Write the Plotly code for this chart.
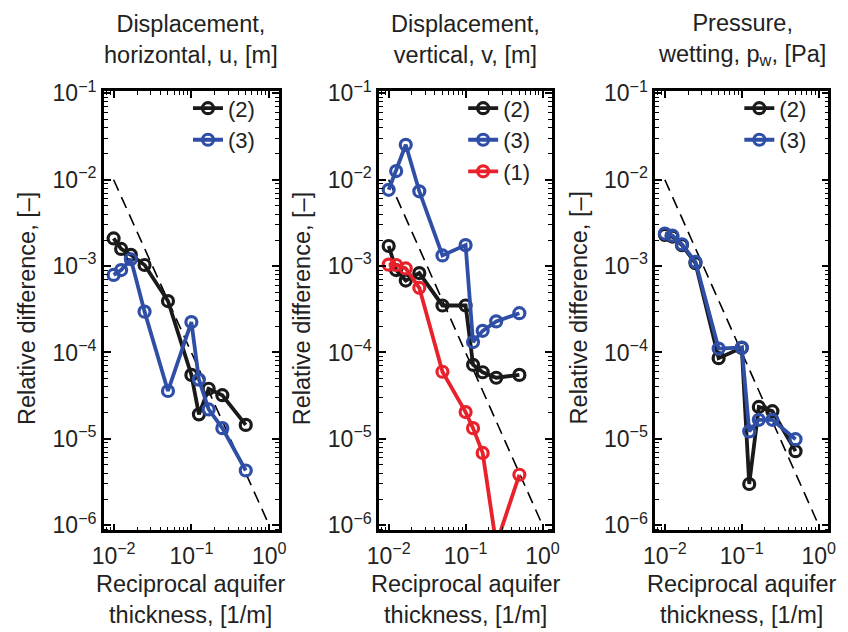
import plotly.graph_objects as go

# ---------------- data ----------------
x_recip = [1/100, 1/80, 1/60, 1/40, 1/20, 1/10, 1/8, 1/6, 1/4, 1/2]

u_2 = [2.09e-3, 1.58e-3, 1.35e-3, 1.03e-3, 3.94e-4, 5.5e-5, 1.92e-5, 3.8e-5, 3.2e-5, 1.45e-5]
u_3 = [7.9e-4, 9.0e-4, 1.2e-3, 2.97e-4, 3.58e-5, 2.25e-4, 4.85e-5, 2.19e-5, 1.33e-5, 4.3e-6]

v_2 = [1.71e-3, 9.0e-4, 6.8e-4, 8.3e-4, 3.5e-4, 3.5e-4, 7.2e-5, 5.9e-5, 5.1e-5, 5.5e-5]
v_3 = [7.65e-3, 1.26e-2, 2.54e-2, 7.35e-3, 1.33e-3, 1.75e-3, 1.32e-4, 1.78e-4, 2.29e-4, 2.85e-4]
v_1 = [1.04e-3, 1.03e-3, 9.4e-4, 5.6e-4, 5.98e-5, 2.04e-5, 1.33e-5, 6.87e-6, 6.0e-7, 3.84e-6]

p_2 = [2.3e-3, 2.2e-3, 1.75e-3, 1.08e-3, 8.6e-5, 1.13e-4, 3.0e-6, 2.34e-5, 2.09e-5, 7.2e-6]
p_3 = [2.38e-3, 2.26e-3, 1.79e-3, 1.12e-3, 1.11e-4, 1.14e-4, 1.22e-5, 1.66e-5, 1.66e-5, 9.9e-6]

ref_x = [1e-2, 1e0]
ref_y = [1e-2, 1e-6]

titles = ["Displacement,<br>horizontal, u, [m]",
          "Displacement,<br>vertical, v, [m]",
          "Pressure,<br>wetting, p<sub>w</sub>, [Pa]"]
xlabel = "Reciprocal aquifer<br>thickness, [1/m]"
ylabel = "Relative difference, [–]"

x_tickvals = [1e-2, 1e-1, 1e0]
x_ticktext = ["10<sup>−2</sup>", "10<sup>−1</sup>", "10<sup>0</sup>"]
y_tickvals = [1e-6, 1e-5, 1e-4, 1e-3, 1e-2, 1e-1]
y_ticktext = ["10<sup>−6</sup>", "10<sup>−5</sup>", "10<sup>−4</sup>",
              "10<sup>−3</sup>", "10<sup>−2</sup>", "10<sup>−1</sup>"]

# ---------------- style ----------------
FONT = "Liberation Sans, Arial, Helvetica, sans-serif"
FS = 23
FT = 23.5
TXT = "#222222"
C2 = "#1a1a1a"
C3 = "#2f4ea6"
C1 = "#e8212b"
LW = 3.8
W, H = 848, 632

xdoms = [[94/W, 273/W], [375.5/W, 552.5/W], [658/W, 835/W]]
ydom = [1 - 535/H, 1 - 80/H]

minor_x = [m * 10**e for e in range(-3, 1) for m in range(2, 10)]
minor_y = [m * 10**e for e in range(-7, 0) for m in range(2, 10)]

fig = go.Figure()

panels = [
    [("(2)", u_2, C2), ("(3)", u_3, C3)],
    [("(2)", v_2, C2), ("(3)", v_3, C3), ("(1)", v_1, C1)],
    [("(2)", p_2, C2), ("(3)", p_3, C3)],
]

for i, series in enumerate(panels):
    sfx = "" if i == 0 else str(i + 1)
    leg = "legend" if i == 0 else f"legend{i+1}"
    fig.add_trace(go.Scatter(
        x=ref_x, y=ref_y, mode="lines",
        line=dict(color="black", width=1.6, dash="12px,7px"),
        showlegend=False, xaxis="x" + sfx, yaxis="y" + sfx, hoverinfo="skip"))
    for name, yv, col in series:
        fig.add_trace(go.Scatter(
            x=x_recip, y=yv, mode="lines+markers", name=name,
            line=dict(color=col, width=LW),
            marker=dict(symbol="circle-open", size=11, color=col,
                        line=dict(color=col, width=3.2)),
            xaxis="x" + sfx, yaxis="y" + sfx, legend=leg))

axis_common = dict(
    type="log", showgrid=False, zeroline=False,
    showline=True, linecolor="black", linewidth=2.5, mirror="ticks",
    ticks="inside", ticklen=7, tickwidth=1.5, tickcolor="black",
    tickfont=dict(family=FONT, size=FS, color=TXT),
)

layout = dict(
    width=W, height=H, margin=dict(l=0, r=0, t=0, b=0),
    paper_bgcolor="white", plot_bgcolor="white",
    font=dict(family=FONT, size=FS, color=TXT),
    annotations=[],
)

for i in range(3):
    sfx = "" if i == 0 else str(i + 1)
    layout["xaxis" + sfx] = dict(
        axis_common, domain=xdoms[i], anchor="y" + sfx,
        range=[-2.125, 0.125], tickmode="array",
        tickvals=x_tickvals, ticktext=x_ticktext, ticklabelstandoff=3,
        minor=dict(tickmode="array", tickvals=minor_x, ticks="inside",
                   ticklen=4, tickwidth=1.2, tickcolor="black", showgrid=False))
    layout["yaxis" + sfx] = dict(
        axis_common, domain=ydom, anchor="x" + sfx,
        range=[-6.06, -0.975], tickmode="array",
        tickvals=y_tickvals, ticktext=y_ticktext,
        minor=dict(tickmode="array", tickvals=minor_y, ticks="inside",
                   ticklen=4, tickwidth=1.2, tickcolor="black", showgrid=False))
    xc = (xdoms[i][0] + xdoms[i][1]) / 2
    layout["annotations"].append(dict(
        text=titles[i], xref="paper", yref="paper", x=xc, y=1 - 26/H,
        xanchor="center", yanchor="middle", showarrow=False,
        font=dict(family=FONT, size=FT, color=TXT)))
    layout["annotations"].append(dict(
        text=xlabel, xref="paper", yref="paper", x=xc, y=1 - 607/H,
        xanchor="center", yanchor="middle", showarrow=False,
        font=dict(family=FONT, size=FT, color=TXT)))
    layout["annotations"].append(dict(
        text=ylabel, xref="paper", yref="paper",
        x=(xdoms[i][0] * W - 78) / W, y=1 - 305/H,
        xanchor="center", yanchor="middle", textangle=-90, showarrow=False,
        font=dict(family=FONT, size=FT, color=TXT)))
    leg = "legend" if i == 0 else f"legend{i+1}"
    layout[leg] = dict(
        x=(xdoms[i][0] * W + 86) / W, y=1 - 76/H, xanchor="left", yanchor="top",
        bgcolor="rgba(0,0,0,0)", borderwidth=0, tracegroupgap=0,
        font=dict(family=FONT, size=22, color=TXT))

fig.update_layout(**layout)
fig.write_html("out.html")
